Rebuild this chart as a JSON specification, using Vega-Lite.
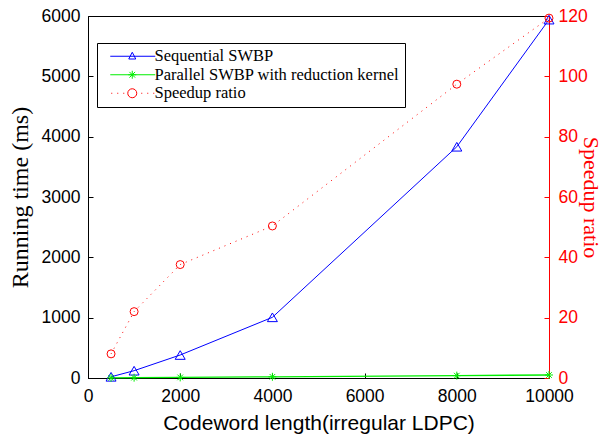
{
  "$schema": "https://vega.github.io/schema/vega-lite/v6.json",
  "width": 461,
  "height": 362,
  "autosize": {"type": "none"},
  "padding": {"left": 88, "top": 16, "right": 57, "bottom": 59},
  "background": "white",
  "config": {
    "view": {"stroke": "black", "strokeWidth": 1},
    "axis": {"grid": false}
  },
  "data": {
    "values": [
      {"n": 500, "series": "Sequential SWBP", "value": 20},
      {"n": 1000, "series": "Sequential SWBP", "value": 121},
      {"n": 2000, "series": "Sequential SWBP", "value": 381},
      {"n": 4000, "series": "Sequential SWBP", "value": 1006},
      {"n": 8000, "series": "Sequential SWBP", "value": 3833},
      {"n": 10000, "series": "Sequential SWBP", "value": 5940},
      {"n": 500, "series": "Parallel SWBP with reduction kernel", "value": 2.5},
      {"n": 1000, "series": "Parallel SWBP with reduction kernel", "value": 5.5},
      {"n": 2000, "series": "Parallel SWBP with reduction kernel", "value": 10.1},
      {"n": 4000, "series": "Parallel SWBP with reduction kernel", "value": 20},
      {"n": 8000, "series": "Parallel SWBP with reduction kernel", "value": 39.4},
      {"n": 10000, "series": "Parallel SWBP with reduction kernel", "value": 49.8},
      {"n": 500, "series": "Speedup ratio", "value": 8},
      {"n": 1000, "series": "Speedup ratio", "value": 22},
      {"n": 2000, "series": "Speedup ratio", "value": 37.6},
      {"n": 4000, "series": "Speedup ratio", "value": 50.4},
      {"n": 8000, "series": "Speedup ratio", "value": 97.4},
      {"n": 10000, "series": "Speedup ratio", "value": 119.3}
    ]
  },
  "encoding": {
    "x": {
      "field": "n",
      "type": "quantitative",
      "scale": {"domain": [0, 10000], "nice": false},
      "axis": {
        "values": [0, 2000, 4000, 6000, 8000, 10000],
        "format": "d",
        "title": "Codeword length(irregular LDPC)",
        "titleFont": "Liberation Sans",
        "titleFontSize": 21,
        "titleFontWeight": "normal",
        "titleColor": "black",
        "titlePadding": 8,
        "labelFont": "Liberation Sans",
        "labelFontSize": 17.5,
        "labelColor": "black",
        "labelFlush": false,
        "labelOverlap": false,
        "labelPadding": 14,
        "tickSize": -5,
        "tickColor": "black",
        "domainColor": "black"
      }
    }
  },
  "layer": [
    {
      "encoding": {
        "y": {
          "field": "value",
          "type": "quantitative",
          "scale": {"domain": [0, 6000], "nice": false},
          "axis": {
            "values": [0, 1000, 2000, 3000, 4000, 5000, 6000],
            "format": "d",
            "title": "Running time (ms)",
            "titleFont": "Liberation Serif",
            "titleFontSize": 24,
            "titleFontWeight": "normal",
            "titleColor": "black",
            "titlePadding": 9,
            "labelFont": "Liberation Sans",
            "labelFontSize": 17.5,
            "labelColor": "black",
            "labelPadding": 13,
            "tickSize": -5,
            "tickColor": "black",
            "domainColor": "black"
          }
        }
      },
      "layer": [
        {
          "transform": [{"filter": "datum.series === 'Sequential SWBP'"}],
          "mark": {"type": "line", "color": "#0000ff", "strokeWidth": 1}
        },
        {
          "transform": [{"filter": "datum.series === 'Parallel SWBP with reduction kernel'"}],
          "mark": {"type": "line", "color": "#00ee00", "strokeWidth": 1.3}
        },
        {
          "transform": [{"filter": "datum.series === 'Sequential SWBP'"}],
          "mark": {"type": "point", "shape": "triangle-up", "filled": false, "color": "#0000ff", "size": 100, "strokeWidth": 1, "opacity": 1}
        },
        {
          "transform": [{"filter": "datum.series === 'Parallel SWBP with reduction kernel'"}],
          "mark": {"type": "point", "shape": "M0,-1V1M-1,0H1M-0.7,-0.7L0.7,0.7M-0.7,0.7L0.7,-0.7", "filled": false, "color": "#00ee00", "size": 64, "strokeWidth": 1, "opacity": 1}
        },
        {
          "transform": [{"filter": "datum.n < 0"}],
          "mark": {"type": "point", "filled": false, "size": 100, "strokeWidth": 1},
          "encoding": {
            "color": {
              "field": "series",
              "type": "nominal",
              "scale": {
                "domain": ["Sequential SWBP", "Parallel SWBP with reduction kernel", "Speedup ratio"],
                "range": ["#0000ff", "#00ee00", "#ff0000"]
              },
              "legend": {
                "title": null,
                "orient": "none",
                "legendX": 9,
                "legendY": 27,
                "direction": "vertical",
                "strokeColor": "black",
                "fillColor": "white",
                "padding": 5,
                "symbolSize": 100,
                "symbolStrokeWidth": 1,
                "symbolFillColor": "transparent",
                "symbolOpacity": 1,
                "labelFont": "Liberation Serif",
                "labelFontSize": 16.5,
                "labelColor": "black",
                "labelOffset": 36,
                "labelLimit": 400,
                "rowPadding": 1.5
              }
            },
            "shape": {
              "field": "series",
              "type": "nominal",
              "scale": {
                "domain": ["Sequential SWBP", "Parallel SWBP with reduction kernel", "Speedup ratio"],
                "range": [
                  "M0,0H9M4.4,-0.8L5.1,0.55L3.7,0.55Z",
                  "M0,0H9M4.4,-0.8V0.8M3.6,0H5.2M3.83,-0.57L4.97,0.57M3.83,0.57L4.97,-0.57",
                  "M0.2,0h0.2M1.4,0h0.2M2.6,0h0.2M6.2,0h0.2M7.4,0h0.2M8.6,0h0.2M5.3,0A0.9,0.9 0 1,1 3.5,0A0.9,0.9 0 1,1 5.3,0"
                ]
              },
              "legend": {
                "title": null,
                "orient": "none",
                "legendX": 9,
                "legendY": 27,
                "direction": "vertical",
                "strokeColor": "black",
                "fillColor": "white",
                "padding": 5,
                "symbolSize": 100,
                "symbolStrokeWidth": 1,
                "symbolFillColor": "transparent",
                "symbolOpacity": 1,
                "labelFont": "Liberation Serif",
                "labelFontSize": 16.5,
                "labelColor": "black",
                "labelOffset": 36,
                "labelLimit": 400,
                "rowPadding": 1.5
              }
            },
            "y": {"field": "value", "type": "quantitative"}
          }
        }
      ]
    },
    {
      "transform": [{"filter": "datum.series === 'Speedup ratio'"}],
      "encoding": {
        "y": {
          "field": "value",
          "type": "quantitative",
          "scale": {"domain": [0, 120], "nice": false},
          "axis": {
            "orient": "right",
            "values": [0, 20, 40, 60, 80, 100, 120],
            "format": "d",
            "title": "Speedup ratio",
            "titleFont": "Liberation Serif",
            "titleFontSize": 22,
            "titleFontWeight": "normal",
            "titleColor": "#ff0000",
            "titlePadding": -9,
            "labelFont": "Liberation Sans",
            "labelFontSize": 17.5,
            "labelColor": "#ff0000",
            "labelPadding": 14,
            "tickSize": -5,
            "tickColor": "#ff0000",
            "domainColor": "#ff0000"
          }
        }
      },
      "layer": [
        {
          "mark": {"type": "line", "color": "#ff0000", "strokeWidth": 1, "strokeDash": [1, 5]}
        },
        {
          "mark": {"type": "point", "shape": "circle", "filled": false, "color": "#ff0000", "size": 64, "strokeWidth": 1, "opacity": 1}
        }
      ]
    }
  ],
  "resolve": {"scale": {"y": "independent"}}
}
